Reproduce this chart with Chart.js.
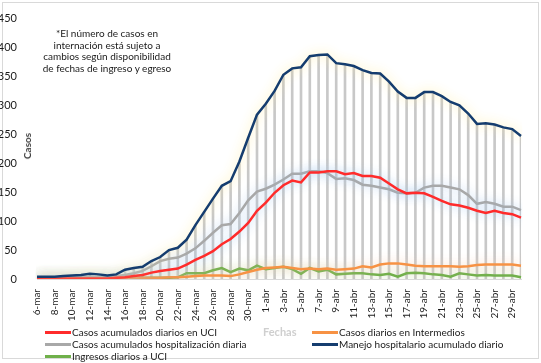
<!DOCTYPE html>
<html>
<head>
<meta charset="utf-8">
<script src="https://cdn.jsdelivr.net/npm/chart.js@4"></script>
<style>
  body { margin: 0; background: #fff; }
  #wrap { position: relative; width: 541px; height: 363px; font-family: Lato, "Open Sans", sans-serif; color: #1a1a1a; }
  #frame { position: absolute; left: 2px; top: 2px; width: 535px; height: 355px; border: 1px solid #d9d9d9; }
  canvas { position: absolute; left: 0; top: 0; }
  .note { position: absolute; left: 40px; top: 28px; width: 134px; text-align: center; font-size: 10px; line-height: 11.6px; }
  .ytitle { position: absolute; left: 27px; top: 146px; font-size: 10px; font-weight: bold; color: #404040; transform: translate(-50%, -50%) rotate(-90deg); }
  .xtitle { position: absolute; left: 263px; top: 325px; font-size: 11px; font-weight: bold; color: #cfcfcf; }
  .leg { position: absolute; font-size: 10px; white-space: nowrap; line-height: 12px; }
  .leg i { display: inline-block; width: 26px; height: 2.5px; vertical-align: middle; margin-right: 1px; position: relative; top: -1px; }
</style>
</head>
<body>
<div id="wrap">
  <div id="frame"></div>
  <canvas id="chart" width="541" height="363"></canvas>
  <div class="note">*El número de casos en internación está sujeto a cambios según disponibilidad de fechas de ingreso y egreso</div>
  <div class="ytitle">Casos</div>
  <div class="xtitle">Fechas</div>
  <div id="legend"></div>
</div>
<script>
// fechas del 6-mar al 30-abr
const fechas = [
  '6-mar','7-mar','8-mar','9-mar','10-mar','11-mar','12-mar','13-mar','14-mar','15-mar',
  '16-mar','17-mar','18-mar','19-mar','20-mar','21-mar','22-mar','23-mar','24-mar','25-mar',
  '26-mar','27-mar','28-mar','29-mar','30-mar','31-mar',
  '1-abr','2-abr','3-abr','4-abr','5-abr','6-abr','7-abr','8-abr','9-abr','10-abr',
  '11-abr','12-abr','13-abr','14-abr','15-abr','16-abr','17-abr','18-abr','19-abr','20-abr',
  '21-abr','22-abr','23-abr','24-abr','25-abr','26-abr','27-abr','28-abr','29-abr','30-abr'
];

const uciAcumulados = [
  1,1,1,1,1,1,1,1,1,2,3,5,7,11,14,16,18,25,33,40,
  48,60,69,82,97,118,132,149,162,170,167,184,184,186,186,181,183,178,178,175,
  165,155,148,149,148,142,135,129,127,123,118,114,118,114,112,106
];
const intermedios = [
  0,0,0,0,0,0,0,0,0,0,1,1,2,2,2,3,3,4,5,6,
  6,6,5,8,12,16,19,20,21,19,17,18,17,18,16,17,18,22,20,25,
  27,27,25,23,22,22,22,22,21,22,24,25,25,25,25,23
];
const hospAcumulados = [
  3,3,3,3,3,3,3,3,3,5,7,10,14,22,31,35,37,44,53,66,
  80,93,95,114,136,151,156,163,172,182,182,186,186,183,173,174,171,163,161,158,
  155,149,148,149,158,161,161,158,155,145,130,133,130,125,125,119
];
const manejoHosp = [
  4,4,4,5,6,7,9,8,6,8,16,19,21,31,38,50,54,68,93,116,
  139,161,169,203,244,284,303,325,353,364,366,385,387,388,373,371,368,361,356,355,
  341,324,313,313,323,323,316,306,300,286,268,269,267,262,259,247
];
const ingresosUci = [
  2,2,2,2,2,2,2,2,2,2,2,2,2,2,2,2,3,10,10,10,
  15,19,12,18,15,23,17,19,21,17,9,19,13,16,8,9,10,10,8,7,
  9,4,10,11,10,8,7,4,10,8,6,7,6,6,6,3
];

const yTicks = [0, 50, 100, 150, 200, 250, 300, 350, 400, 450];

// resplandor alrededor de las líneas, como en Excel
const glowPlugin = {
  id: 'glow',
  beforeDatasetDraw(chart, args) {
    const ds = chart.data.datasets[args.index];
    chart.ctx.save();
    if (ds.glow) {
      chart.ctx.shadowColor = ds.glow;
      chart.ctx.shadowBlur = 11;
    }
  },
  afterDatasetDraw(chart) {
    chart.ctx.restore();
  }
};

const series = [
  { label: 'Casos acumulados diarios en UCI', data: uciAcumulados, color: '#ff2b2b', glow: 'rgba(160,200,240,0.9)', order: 1 },
  { label: 'Casos diarios en Intermedios', data: intermedios, color: '#f79244', glow: 'rgba(250,200,170,0.9)', order: 3 },
  { label: 'Casos acumulados hospitalización diaria', data: hospAcumulados, color: '#a8a8a8', glow: 'rgba(170,200,235,0.9)', order: 2 },
  { label: 'Manejo hospitalario acumulado diario', data: manejoHosp, color: '#153d6f', glow: 'rgba(255,235,150,0.9)', order: 0 },
  { label: 'Ingresos diarios a UCI', data: ingresosUci, color: '#6fb04a', glow: 'rgba(190,220,160,0.9)', order: 4 }
];

const datasets = series.map(s => ({
  type: 'line',
  label: s.label,
  data: s.data,
  borderColor: s.color,
  backgroundColor: s.color,
  borderWidth: 2.5,
  pointRadius: 0,
  tension: 0,
  fill: false,
  glow: s.glow,
  order: s.order
}));

// líneas de unión verticales hasta el eje
datasets.push({
  type: 'bar',
  label: 'drop',
  data: manejoHosp,
  backgroundColor: '#c8c8c8',
  barThickness: 2,
  order: 10
});

new Chart(document.getElementById('chart'), {
  data: { labels: fechas, datasets: datasets },
  plugins: [glowPlugin],
  options: {
    responsive: false,
    animation: false,
    layout: { padding: { top: 18, right: 20, left: 0, bottom: 0 } },
    plugins: {
      legend: { display: false },
      tooltip: { enabled: false }
    },
    scales: {
      x: {
        offset: false,
        grid: { display: false },
        border: { display: true, color: '#d9d9d9' },
        afterFit(axis) { axis.height = 84; },
        ticks: {
          autoSkip: false,
          minRotation: 90,
          maxRotation: 90,
          padding: 2,
          color: '#1a1a1a',
          font: { family: 'Lato', size: 10 },
          callback: function(value, index) {
            return index % 2 === 0 ? fechas[index] : '';
          }
        }
      },
      y: {
        min: 0,
        max: 450,
        grid: { display: false },
        border: { display: false },
        afterFit(axis) { axis.width = 37; },
        afterBuildTicks(axis) { axis.ticks = yTicks.map(v => ({ value: v })); },
        ticks: {
          padding: 12,
          color: '#1a1a1a',
          font: { family: 'Lato', size: 11 }
        }
      }
    }
  }
});

// leyenda en dos columnas
const legendPos = [
  { left: 45, top: 326 }, { left: 312, top: 326 },
  { left: 45, top: 338 }, { left: 312, top: 338 },
  { left: 45, top: 350 }
];
const legend = document.getElementById('legend');
series.forEach((s, i) => {
  const el = document.createElement('div');
  el.className = 'leg';
  el.style.left = legendPos[i].left + 'px';
  el.style.top = legendPos[i].top + 'px';
  el.innerHTML = `<i style="background:${s.color}"></i>${s.label}`;
  legend.appendChild(el);
});
</script>
</body>
</html>
